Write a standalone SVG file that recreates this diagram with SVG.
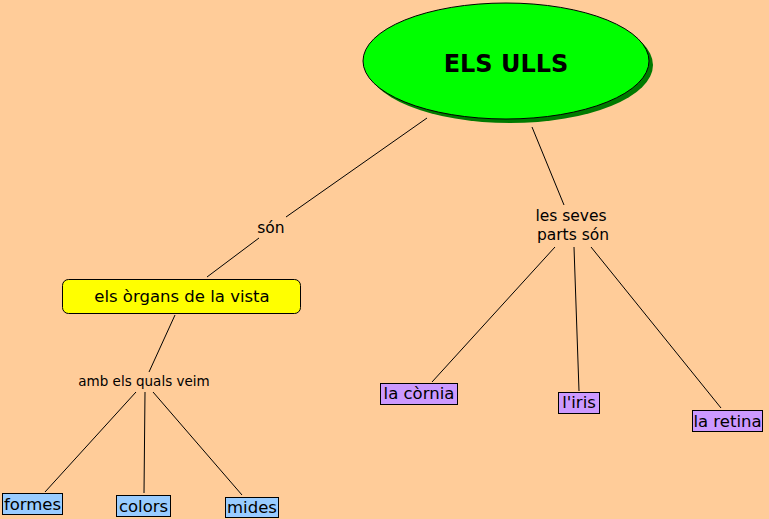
<svg xmlns="http://www.w3.org/2000/svg" width="769" height="519" viewBox="0 0 769 519">
<style>
text{font-family:"DejaVu Sans","Liberation Sans",sans-serif;fill:#000;text-anchor:middle}
.lbl{font-size:15.5px}
.box{font-size:16.5px}
.sm{font-size:13.5px}
.c line{stroke:#000;stroke-width:1}
.blue{fill:#99CCFF;stroke:#000;stroke-width:1}
.purp{fill:#CC99FF;stroke:#000;stroke-width:1}
</style>
<rect width="769" height="519" fill="#FFCC99"/>
<g class="c" id="connectors">
<line x1="427" y1="118" x2="286" y2="217"/>
<line x1="259" y1="238" x2="207" y2="277"/>
<line x1="532" y1="127" x2="564" y2="205"/>
<line x1="555" y1="247" x2="432" y2="382"/>
<line x1="574" y1="247" x2="579" y2="391"/>
<line x1="591" y1="247" x2="721" y2="408"/>
<line x1="175" y1="315" x2="149" y2="372"/>
<line x1="136" y1="392" x2="45" y2="492"/>
<line x1="145" y1="392" x2="144" y2="493"/>
<line x1="153" y1="392" x2="242" y2="495"/>
</g>
<g id="n-ulls">
<ellipse cx="510" cy="65" rx="143" ry="58" fill="#007A00"/>
<ellipse cx="506" cy="61" rx="143" ry="58" fill="#00FF00" stroke="#000" stroke-width="1"/>
<text x="506" y="72" style="font-size:24px;font-weight:bold">ELS ULLS</text>
</g>
<g id="l-son"><text class="lbl" x="271" y="233">són</text></g>
<g id="l-parts"><text class="lbl" x="571" y="221">les seves</text><text class="lbl" x="573" y="240">parts són</text></g>
<g id="n-organs">
<rect x="62.5" y="279.5" width="238" height="34" rx="6" fill="#FFFF00" stroke="#000"/>
<text class="box" x="182" y="302">els òrgans de la vista</text>
</g>
<g id="l-amb"><text class="sm" x="144" y="386">amb els quals veim</text></g>
<g id="n-formes"><rect class="blue" x="2.5" y="493.5" width="60" height="21"/><text class="box" x="32.5" y="510">formes</text></g>
<g id="n-colors"><rect class="blue" x="116.5" y="495.5" width="54" height="21"/><text class="box" x="143.5" y="512">colors</text></g>
<g id="n-mides"><rect class="blue" x="225.5" y="497.5" width="53" height="20"/><text class="box" x="252" y="513">mides</text></g>
<g id="n-cornia"><rect class="purp" x="380.5" y="383.5" width="77" height="21"/><text class="box" x="419" y="399">la còrnia</text></g>
<g id="n-iris"><rect class="purp" x="558.5" y="392.5" width="41" height="21"/><text class="box" x="579" y="408">l'iris</text></g>
<g id="n-retina"><rect class="purp" x="692.5" y="410.5" width="70" height="21"/><text class="box" x="727.5" y="427">la retina</text></g>
</svg>
